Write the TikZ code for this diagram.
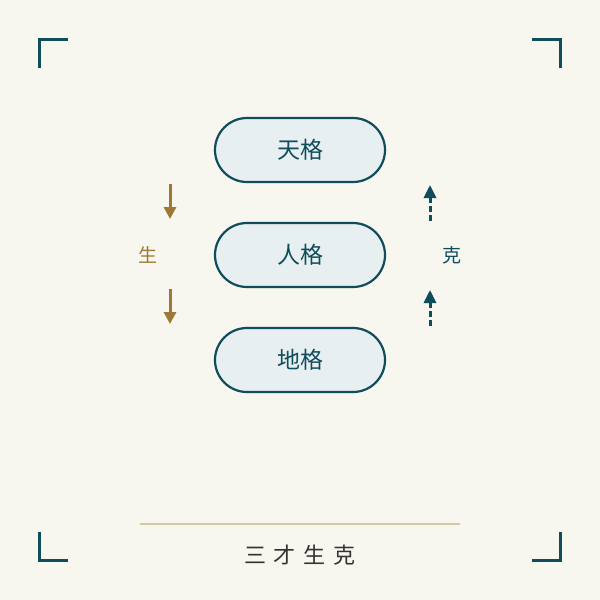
\documentclass[tikz,border=0pt]{standalone}
\usepackage{fontspec}
\usepackage{xcolor}
\usetikzlibrary{arrows.meta}
\newfontfamily\cjk{Noto Sans CJK SC}
\definecolor{bgcream}{HTML}{F7F6EF}
\definecolor{teal}{HTML}{0F4C5C}
\definecolor{paleblue}{HTML}{E8EFF0}
\definecolor{gold}{HTML}{9C7A35}
\definecolor{tan}{HTML}{D6C6A2}
\definecolor{inkgray}{HTML}{333333}
\tikzset{
  pill/.style={draw=teal, line width=2.2pt, fill=paleblue, rounded corners=32pt,
    minimum width=170pt, minimum height=64pt, text=teal, font=\cjk\fontsize{23}{26}\selectfont},
  sheng/.style={draw=gold, line width=3pt, -{Triangle[length=12pt,width=12pt]}},
  ke/.style={draw=teal, line width=3pt, dash pattern=on 6pt off 3pt, -{Triangle[length=13pt,width=12pt]}},
  corner/.style={draw=teal, line width=3.6pt},
}
\begin{document}
\begin{tikzpicture}[x=1pt,y=-1pt]
    \fill[bgcream] (0,0) rectangle (600,600);
    \useasboundingbox (0,0) rectangle (600,600);
    % corners
    \draw[corner] (68,39.5) -- (39.5,39.5) -- (39.5,68);
    \draw[corner] (532,39.5) -- (560.5,39.5) -- (560.5,68);
    \draw[corner] (68,560.5) -- (39.5,560.5) -- (39.5,532);
    \draw[corner] (532,560.5) -- (560.5,560.5) -- (560.5,532);
    % three pills
    \node[pill] (tian) at (300,150) {天格};
    \node[pill] (ren) at (300,255) {人格};
    \node[pill] (di) at (300,360) {地格};
    % arrows
    \coordinate (s1a) at (170,184);
    \coordinate (s1b) at (170,219);
    \coordinate (s2a) at (170,289);
    \coordinate (s2b) at (170,324);
    \coordinate (k1a) at (430,221);
    \coordinate (k1b) at (430,185);
    \coordinate (k2a) at (430,326);
    \coordinate (k2b) at (430,290);
    \draw[sheng] (s1a) -- (s1b);
    \draw[sheng] (s2a) -- (s2b);
    \draw[ke] (k1a) -- (k1b);
    \draw[ke] (k2a) -- (k2b);
    \node[text=gold, font=\cjk\fontsize{19}{22}\selectfont] (sheng) at (148,255) {生};
    \node[text=teal, font=\cjk\fontsize{19}{22}\selectfont] (ke) at (452,255) {克};
    % title
    \coordinate (la) at (140,523.5);
    \coordinate (lb) at (460,523.5);
    \draw[tan, line width=2pt] (la) -- (lb);
    \node[text=inkgray, font=\cjk\fontsize{22}{26}\selectfont] (title) at (300,555) {三\hspace{8pt}才\hspace{8pt}生\hspace{8pt}克};
\end{tikzpicture}
\end{document}
